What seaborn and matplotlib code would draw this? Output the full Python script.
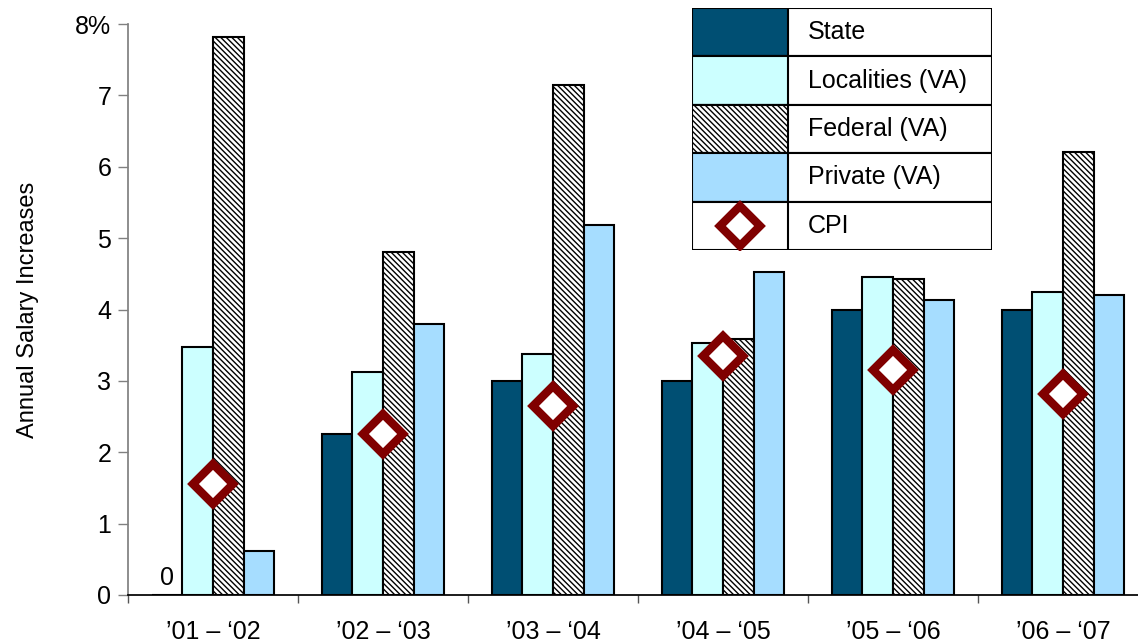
import matplotlib
matplotlib.use("Agg")
import matplotlib.pyplot as plt
import seaborn as sns
import pandas as pd
from matplotlib.patches import Rectangle

periods = ["\u201901 \u2013 \u201802", "\u201902 \u2013 \u201803", "\u201903 \u2013 \u201804",
           "\u201904 \u2013 \u201805", "\u201905 \u2013 \u201806", "\u201906 \u2013 \u201807"]
series = ["State", "Localities (VA)", "Federal (VA)", "Private (VA)"]
state = [0.0, 2.25, 3.0, 3.0, 4.0, 4.0]
localities = [3.47, 3.13, 3.37, 3.53, 4.45, 4.25]
federal = [7.82, 4.80, 7.15, 3.58, 4.43, 6.20]
private = [0.62, 3.79, 5.19, 4.53, 4.13, 4.21]
cpi = [1.55, 2.25, 2.65, 3.35, 3.15, 2.82]
ytick_labels = ["0", "1", "2", "3", "4", "5", "6", "7", "8%"]

colors = {"State": "#004F73", "Localities (VA)": "#CCFFFF",
          "Federal (VA)": "#FFFFFF", "Private (VA)": "#A6DDFF"}
cpi_color = "#800000"
HATCH = "\\\\\\\\\\\\"

sns.set_theme(style="white")
plt.rcParams["font.family"] = ["Liberation Sans", "DejaVu Sans"]
plt.rcParams["hatch.linewidth"] = 1.0
plt.rcParams["hatch.color"] = "#333333"
plt.rcParams["text.color"] = "black"
plt.rcParams["axes.labelcolor"] = "black"
plt.rcParams["xtick.labelcolor"] = "black"
plt.rcParams["ytick.labelcolor"] = "black"

rows = []
for name, vals in zip(series, [state, localities, federal, private]):
    for p, v in zip(periods, vals):
        rows.append({"period": p, "series": name, "value": v})
df = pd.DataFrame(rows)

fig = plt.figure(figsize=(11.38, 6.44), dpi=100)
ax = fig.add_axes([128 / 1138, 49 / 644, 1020 / 1138, 571 / 644])

sns.barplot(data=df, x="period", y="value", hue="series", order=periods,
            hue_order=series, palette=colors, width=0.72, edgecolor="black",
            linewidth=1.5, saturation=1, legend=False, ax=ax)

for bar, lab in zip(ax.patches, [s for s in series for _ in periods]):
    if lab == "Federal (VA)":
        bar.set_hatch(HATCH)

ax.plot(range(len(periods)), cpi, linestyle="none", marker="D", markersize=20,
        markerfacecolor="white", markeredgecolor=cpi_color, markeredgewidth=6,
        zorder=5)

ax.text(-0.27, 0.07, "0", ha="center", va="bottom", fontsize=18, color="black")

ax.set_ylim(0, 8)
ax.set_xlim(-0.5, len(periods) - 0.5)
ax.set_yticks(range(9))
ax.set_yticklabels(ytick_labels, fontsize=18)
ax.set_xticks(range(len(periods)))
ax.set_xticklabels(periods, fontsize=18)
ax.set_xticks([i - 0.5 for i in range(len(periods) + 1)], minor=True)
ax.tick_params(axis="x", which="major", length=0, pad=18, bottom=True,
               labelcolor="black")
ax.tick_params(axis="x", which="minor", length=6, width=1, direction="out",
               color="#555555", bottom=True)
ax.tick_params(axis="y", length=7, width=1, direction="out", color="#808080",
               pad=5, left=True, labelcolor="black")
ax.set_xlabel("")
ax.set_ylabel("Annual Salary Increases", fontsize=17, labelpad=26, color="black")
for s in ["top", "right"]:
    ax.spines[s].set_visible(False)
ax.spines["left"].set_color("#808080")
ax.spines["bottom"].set_color("black")

# table-style legend
lax = fig.add_axes([692 / 1138, (644 - 250) / 644, 300 / 1138, 242 / 644])
lax.set_xlim(0, 300)
lax.set_ylim(242, 0)
lax.axis("off")
row_h = 242 / 5
for i, name in enumerate(series + ["CPI"]):
    y0 = i * row_h
    lax.add_patch(Rectangle((0, y0), 300, row_h, facecolor="white",
                            edgecolor="black", linewidth=1.5))
    if name != "CPI":
        lax.add_patch(Rectangle((0, y0), 96, row_h, facecolor=colors[name],
                                edgecolor="black", linewidth=1.5,
                                hatch=HATCH if name == "Federal (VA)" else None))
    else:
        lax.add_patch(Rectangle((0, y0), 96, row_h, facecolor="white",
                                edgecolor="black", linewidth=1.5))
        lax.plot([48], [y0 + row_h / 2], marker="D", markersize=20,
                 markerfacecolor="white", markeredgecolor=cpi_color,
                 markeredgewidth=6, linestyle="none")
    lax.text(116, y0 + row_h / 2, name, va="center", ha="left", fontsize=18,
             color="black")

fig.savefig("out.png", dpi=100)
